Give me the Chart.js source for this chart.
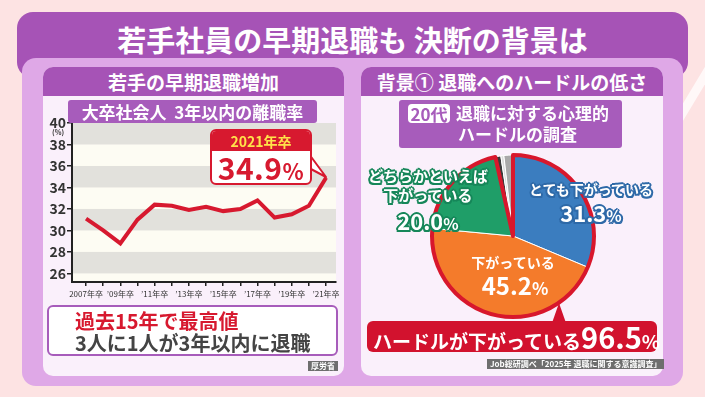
<!DOCTYPE html>
<html>
<head>
<meta charset="utf-8">
<script src="https://cdn.jsdelivr.net/npm/chart.js@4.4.1/dist/chart.umd.min.js"></script>
<style>
  body { margin: 0; width: 705px; height: 397px; overflow: hidden; position: relative;
         background: #fde3e3; font-family: 'Noto Sans CJK JP', sans-serif; font-weight: 700; }
  .abs { position: absolute; }
  .stripe { left: 690px; top: -207px; width: 9px; height: 600px; background: rgba(255,255,255,0.75); transform: rotate(31deg); }
  .titlebar { left: 17px; top: 12px; width: 671px; height: 66px; border-radius: 16px; background: #a653b6; }
  .title { left: 17px; top: 20px; width: 671px; height: 38px; line-height: 38px; text-align: center; color: #fff; font-size: 29px; }
  .outer { left: 22px; top: 58px; width: 661px; height: 328px; border-radius: 14px; background: #dfa8e7; }
  .panel { top: 67px; height: 309px; border-radius: 10px; background: #faf0fb; overflow: hidden; }
  .head { left: 0; top: 0; width: 100%; height: 29px; line-height: 29px; background: #a653b6; color: #fff; font-size: 19px; text-align: center; white-space: nowrap; }
  .tag { background: #a75cbb; color: #fff; border-radius: 3px; }
  .box { border-radius: 6px; }
  .src { background: #6e6e6e; color: #fff; font-size: 8px; line-height: 10px; padding: 0 3px; white-space: nowrap; }
  .out { color: #fff; white-space: nowrap; text-align: center; }
  .blue { text-shadow: 0 0 2px #2f6aa8, 1.5px 1.5px 0 #2f6aa8, -1.5px -1.5px 0 #2f6aa8, 1.5px -1.5px 0 #2f6aa8, -1.5px 1.5px 0 #2f6aa8, 0 2px 0 #2f6aa8, 0 -2px 0 #2f6aa8, 2px 0 0 #2f6aa8, -2px 0 0 #2f6aa8; }
  .green { text-shadow: 0 0 2px #17875a, 1.5px 1.5px 0 #17875a, -1.5px -1.5px 0 #17875a, 1.5px -1.5px 0 #17875a, -1.5px 1.5px 0 #17875a, 0 2px 0 #17875a, 0 -2px 0 #17875a, 2px 0 0 #17875a, -2px 0 0 #17875a; }
</style>
</head>
<body>
<div class="abs stripe"></div>
<div class="abs titlebar"></div>
<div class="abs title">若手社員の早期退職も&nbsp;決断の背景は</div>
<div class="abs outer"></div>

<div class="abs panel" style="left:43px;width:301px"><div class="abs head">若手の早期退職増加</div></div>
<div class="abs panel" style="left:361px;width:302px"><div class="abs head">背景①&nbsp;退職へのハードルの低さ</div></div>

<!-- left: line chart -->
<canvas id="rate-graph" class="abs" style="left:42px;top:95px;width:305px;height:210px"></canvas>
<div class="abs tag" style="left:68px;top:100px;width:249px;height:23px;line-height:23px;text-align:center;font-size:17px">大卒社会人&nbsp;&nbsp;3年以内の離職率</div>
<div class="abs" style="left:52px;top:127px;font-size:7px;color:#333">(%)</div>

<svg class="abs" style="left:0;top:0" width="705" height="397">
  <polygon points="309,154 309,168 326,177" fill="#fff" stroke="#d7192f" stroke-width="2" stroke-linejoin="round"/>
  <polygon points="552,323 566,323 559,303" fill="#d2122e"/>
</svg>
<div class="abs box" style="left:210px;top:129px;width:98px;height:52px;border:2px solid #d7192f;background:#fff;overflow:hidden">
  <div style="height:20px;line-height:20px;background:#d7192f;color:#ffe24a;font-size:14px;text-align:center">2021年卒</div>
  <div style="height:32px;line-height:32px;color:#d7192f;font-size:30px;text-align:center;letter-spacing:0.5px">34.9<span style="font-size:22px">%</span></div>
</div>

<div class="abs box" style="left:47px;top:305px;width:287px;height:47px;border:2px solid #a75cbb;background:#fff"></div>
<div class="abs" style="left:75px;top:309px;font-size:20px;line-height:24px;color:#d7192f">過去15年で最高値</div>
<div class="abs" style="left:75px;top:331px;font-size:20px;line-height:24px;color:#444">3人に1人が3年以内に退職</div>
<div class="abs src" style="left:308px;top:361px">厚労省</div>

<!-- right: pie chart -->
<div class="abs tag" style="left:399px;top:100px;width:223px;height:48px"></div>
<div class="abs" style="left:408px;top:104px;width:42px;height:19px;line-height:19px;background:#fff;color:#a75cbb;border-radius:4px;font-size:17px;text-align:center">20代</div>
<div class="abs" style="left:456px;top:103px;font-size:17px;line-height:20px;color:#fff">退職に対する心理的</div>
<div class="abs" style="left:399px;top:124px;width:223px;text-align:center;font-size:17px;line-height:20px;color:#fff;padding-left:14px;box-sizing:border-box">ハードルの調査</div>

<canvas id="hurdle-graph" class="abs" style="left:423px;top:146px;width:180px;height:180px"></canvas>

<div class="abs out blue" style="left:521px;top:180px;width:140px;font-size:14px;line-height:18px">とても下がっている</div>
<div class="abs out blue" style="left:541px;top:198px;width:100px;font-size:22px;line-height:28px">31.3<span style="font-size:16px">%</span></div>

<div class="abs out green" style="left:363px;top:166px;width:130px;font-size:15px;line-height:19px">どちらかといえば<br>下がっている</div>
<div class="abs out green" style="left:378px;top:206px;width:100px;font-size:22px;line-height:28px">20.0<span style="font-size:16px">%</span></div>

<div class="abs out" style="left:463px;top:252px;width:100px;font-size:14px;line-height:20px">下がっている</div>
<div class="abs out" style="left:465px;top:271px;width:100px;font-size:24px;line-height:28px">45.2<span style="font-size:17px">%</span></div>

<div class="abs box" style="left:367px;top:321px;width:290px;height:31px;background:#d2122e"></div>
<div class="abs" style="left:373px;top:319px;color:#fff;font-size:19px;line-height:34px;white-space:nowrap">ハードルが下がっている<span style="font-size:29px">96.5</span><span style="font-size:19px">%</span></div>
<div class="abs src" style="left:487px;top:359px">Job総研調べ「2025年&nbsp;退職に関する意識調査」</div>

<script>
// left chart: 3-year turnover rate of new university graduates (%)
const years = [2007, 2008, 2009, 2010, 2011, 2012, 2013, 2014, 2015, 2016, 2017, 2018, 2019, 2020, 2021];
const rates = [31.1, 30.0, 28.8, 31.0, 32.4, 32.3, 31.9, 32.2, 31.8, 32.0, 32.8, 31.2, 31.5, 32.3, 34.9];
const xTickLabels = ['2007年卒', '', '’09年卒', '', '’11年卒', '', '’13年卒', '', '’15年卒', '', '’17年卒', '', '’19年卒', '', '’21年卒'];
const yTicks = [26, 28, 30, 32, 34, 36, 38, 40];

// right chart: psychological hurdle to quitting, people in their 20s (%)
const pieLabels = ['とても下がっている', '下がっている', 'どちらかといえば下がっている', 'どちらかといえば下がっていない', '下がっていない', 'まったく下がっていない'];
const pieValues = [31.3, 45.2, 20.0, 1.1, 0.6, 1.8];
const pieColors = ['#3b7dbf', '#f47b2b', '#1f9e68', '#3a3a3a', '#dcdcdc', '#a9a9a9'];

const bandRanges = [[26, 28], [30, 32], [34, 36], [38, 40]];

const bands = {
  id: 'bands',
  beforeDraw(chart) {
    const { ctx, chartArea: a, scales: { y } } = chart;
    ctx.save();
    ctx.fillStyle = '#fdfcf3';
    ctx.fillRect(a.left, a.top, a.width, a.height);
    ctx.fillStyle = '#e2e1dc';
    bandRanges.forEach(([lo, hi]) => {
      const t = y.getPixelForValue(hi);
      const b = y.getPixelForValue(lo);
      ctx.fillRect(a.left, t, a.width, b - t);
    });
    ctx.restore();
  }
};

new Chart(document.getElementById('rate-graph'), {
  type: 'line',
  data: {
    datasets: [{
      data: years.map((yr, i) => ({ x: yr, y: rates[i] })),
      borderColor: '#d7192f',
      borderWidth: 4,
      pointRadius: 0,
      tension: 0
    }]
  },
  options: {
    responsive: false,
    animation: false,
    layout: { padding: { left: 0, top: 28, right: 11, bottom: 0 } },
    plugins: { legend: { display: false }, tooltip: { enabled: false } },
    scales: {
      x: {
        type: 'linear', min: 2006.18, max: 2021.58,
        afterBuildTicks: s => { s.ticks = years.map(v => ({ value: v })); },
        afterFit: s => { s.height = 23; },
        grid: { drawOnChartArea: false, drawTicks: true, tickLength: 4, color: '#222', lineWidth: 1.5 },
        border: { color: '#222', width: 2 },
        ticks: {
          autoSkip: false, maxRotation: 0, padding: 3, color: '#333',
          font: { family: 'Noto Sans CJK JP', size: 8 },
          callback: v => xTickLabels[years.indexOf(v)]
        }
      },
      y: {
        min: 25.2, max: 40,
        afterBuildTicks: s => { s.ticks = yTicks.map(v => ({ value: v })); },
        afterFit: s => { s.width = 30; },
        grid: { drawOnChartArea: false, drawTicks: true, tickLength: 5, color: '#222', lineWidth: 1.5 },
        border: { color: '#222', width: 2 },
        ticks: { padding: 1, color: '#333', font: { family: 'Noto Sans CJK JP', size: 14, weight: 'bold' } }
      }
    }
  },
  plugins: [bands]
});

// red outline around the "hurdle has gone down" share
const hurdleOutline = {
  id: 'hurdleOutline',
  afterDatasetsDraw(chart) {
    const arcs = chart.getDatasetMeta(0).data;
    const first = arcs[0];
    const last = arcs[2];
    const ctx = chart.ctx;
    ctx.save();
    ctx.beginPath();
    ctx.moveTo(first.x, first.y);
    ctx.arc(first.x, first.y, first.outerRadius, first.startAngle, last.endAngle);
    ctx.closePath();
    ctx.lineWidth = 4;
    ctx.lineJoin = 'round';
    ctx.strokeStyle = '#d8172c';
    ctx.stroke();
    ctx.restore();
  }
};

new Chart(document.getElementById('hurdle-graph'), {
  type: 'pie',
  data: {
    labels: pieLabels,
    datasets: [{
      data: pieValues,
      backgroundColor: pieColors,
      borderColor: '#fff',
      borderWidth: 1
    }]
  },
  options: {
    responsive: false,
    animation: false,
    radius: 81,
    layout: { padding: 0 },
    plugins: { legend: { display: false }, tooltip: { enabled: false } }
  },
  plugins: [hurdleOutline]
});
</script>
</body>
</html>
